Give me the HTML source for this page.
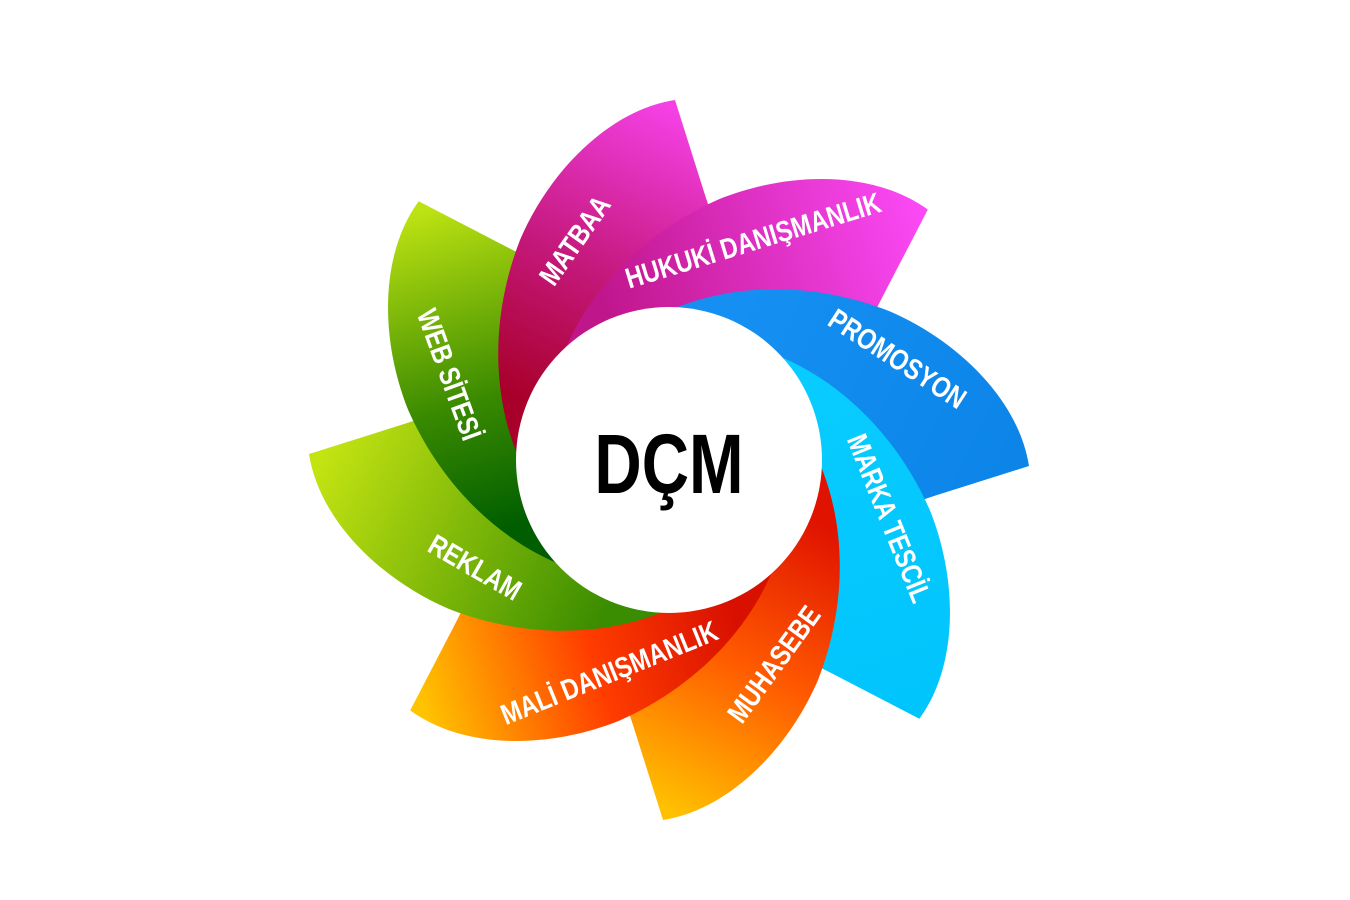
<!DOCTYPE html>
<html><head><meta charset="utf-8"><style>
html,body{margin:0;padding:0;background:#fff}
svg{display:block}
text{font-family:"Liberation Sans",sans-serif;font-weight:bold;fill:#fff}
</style></head><body>
<svg width="1350" height="900" viewBox="0 0 1350 900">
<defs>
<linearGradient id="g0" gradientUnits="userSpaceOnUse" x1="670" y1="110" x2="520" y2="400"><stop offset="0" stop-color="#f440e4"/><stop offset="0.55" stop-color="#c4187a"/><stop offset="1" stop-color="#a8002a"/></linearGradient>
<linearGradient id="g1" gradientUnits="userSpaceOnUse" x1="670" y1="110" x2="520" y2="400"><stop offset="0" stop-color="#fa48f4"/><stop offset="1" stop-color="#c0168c"/></linearGradient>
<linearGradient id="g2" gradientUnits="userSpaceOnUse" x1="670" y1="110" x2="520" y2="400"><stop offset="0" stop-color="#0c84e8"/><stop offset="1" stop-color="#1590f2"/></linearGradient>
<linearGradient id="g3" gradientUnits="userSpaceOnUse" x1="670" y1="110" x2="520" y2="400"><stop offset="0" stop-color="#00c4fc"/><stop offset="1" stop-color="#08ccff"/></linearGradient>
<linearGradient id="g4" gradientUnits="userSpaceOnUse" x1="670" y1="110" x2="520" y2="400"><stop offset="0" stop-color="#ffc000"/><stop offset="0.5" stop-color="#ff5a00"/><stop offset="1" stop-color="#e01200"/></linearGradient>
<linearGradient id="g5" gradientUnits="userSpaceOnUse" x1="670" y1="110" x2="520" y2="400"><stop offset="0" stop-color="#ffc400"/><stop offset="0.55" stop-color="#ff3c00"/><stop offset="1" stop-color="#d81000"/></linearGradient>
<linearGradient id="g6" gradientUnits="userSpaceOnUse" x1="670" y1="110" x2="520" y2="400"><stop offset="0" stop-color="#c4e412"/><stop offset="1" stop-color="#3a8c00"/></linearGradient>
<linearGradient id="g7" gradientUnits="userSpaceOnUse" x1="670" y1="110" x2="520" y2="400"><stop offset="0" stop-color="#bce212"/><stop offset="0.6" stop-color="#3a8a00"/><stop offset="1" stop-color="#005e00"/></linearGradient>
<path id="p" d="M530 480 C495 420 485 330 520 240 C550 170 610 110 675 100 L705 195 L720 240 C660 260 615 320 625 430 Z"/>
<clipPath id="cl"><rect x="380" y="250" width="180" height="300"/></clipPath>
</defs>
<use href="#p" fill="url(#g0)"/>
<use href="#p" fill="url(#g1)" transform="rotate(45 669 460)"/>
<use href="#p" fill="url(#g2)" transform="rotate(90 669 460)"/>
<use href="#p" fill="url(#g3)" transform="rotate(135 669 460)"/>
<use href="#p" fill="url(#g4)" transform="rotate(180 669 460)"/>
<use href="#p" fill="url(#g5)" transform="rotate(225 669 460)"/>
<use href="#p" fill="url(#g6)" transform="rotate(270 669 460)"/>
<use href="#p" fill="url(#g7)" transform="rotate(315 669 460)"/>
<use href="#p" fill="url(#g0)" clip-path="url(#cl)"/>
<circle cx="669" cy="460" r="153" fill="#fff"/>
<text transform="translate(669,493) scale(0.78,1)" font-size="84" text-anchor="middle" style="fill:#000">DÇM</text>
<g font-size="29" text-anchor="middle">
<text transform="translate(583,246) rotate(-55) scale(0.82,1)">MATBAA</text>
<text transform="translate(756,250) rotate(-17) scale(0.82,1)">HUKUKİ DANIŞMANLIK</text>
<text transform="translate(892,367) rotate(33) scale(0.82,1)">PROMOSYON</text>
<text transform="translate(880,522) rotate(68) scale(0.82,1)">MARKA TESCİL</text>
<text transform="translate(782,670) rotate(-54) scale(0.82,1)">MUHASEBE</text>
<text transform="translate(613,682) rotate(-22) scale(0.82,1)">MALİ DANIŞMANLIK</text>
<text transform="translate(470,576) rotate(30) scale(0.82,1)">REKLAM</text>
<text transform="translate(440,378) rotate(70) scale(0.82,1)">WEB SİTESİ</text>
</g>
</svg>
</body></html>
